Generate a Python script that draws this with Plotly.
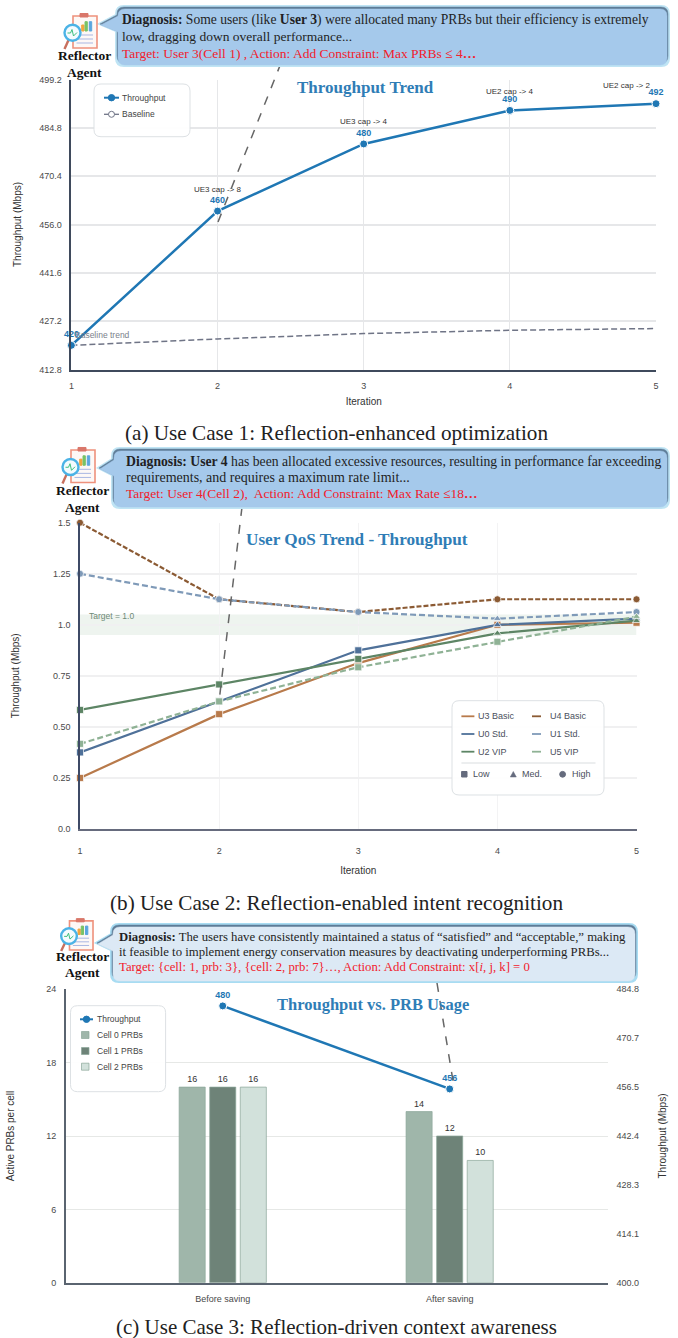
import plotly.graph_objects as go

W, H = 678, 1338

# ---------- data ----------
iterations = [1, 2, 3, 4, 5]
tp_values = [420, 460, 480, 490, 492]
baseline_values = [420, 421.9, 423.5, 424.5, 425.0]
a_yticks = [412.8, 427.2, 441.6, 456.0, 470.4, 484.8, 499.2]
a_notes = ["UE3 cap -> 8", "UE3 cap -> 4", "UE2 cap -> 4", "UE2 cap -> 2"]

u3_basic = [0.25, 0.5625, 0.8125, 1.0, 1.01]
u4_basic = [1.5, 1.125, 1.0625, 1.125, 1.125]
u0_std = [0.375, 0.625, 0.875, 1.0, 1.03]
u1_std = [1.25, 1.125, 1.0625, 1.03, 1.0625]
u2_vip = [0.583, 0.708, 0.833, 0.958, 1.02]
u5_vip = [0.417, 0.625, 0.792, 0.917, 1.04]
b_yticks = [0, 0.25, 0.5, 0.75, 1.0, 1.25, 1.5]
b_yticktext = ["0.0", "0.25", "0.50", "0.75", "1.0", "1.25", "1.5"]

stages = ["Before saving", "After saving"]
cell0 = [16, 14]
cell1 = [16, 12]
cell2 = [16, 10]
tp_saving = [480, 456]
c_yticks = [0, 6, 12, 18, 24]
c_y2ticks = [400.0, 414.1, 428.3, 442.4, 456.5, 470.7, 484.8]

# ---------- helpers ----------
SERIF = "Liberation Serif"
SANS = "Liberation Sans"
shapes, notes = [], []


def px(x):
    return x / W


def py(y):
    return 1 - y / H


def text(x, y, s, size=8.5, color="#444", font=SANS, anchor="left"):
    # annotations pad their box by about 2.5px; take that off left-aligned text
    x = x - 2.5 if anchor == "left" else x
    notes.append(dict(x=px(x), y=py(y), xref="paper", yref="paper", text=s, showarrow=False,
                      xanchor=anchor, yanchor="middle", align=anchor,
                      font=dict(family=font, size=size, color=color)))


def line(x0, y0, x1, y1, color, width=1.5, dash="solid"):
    shapes.append(dict(type="line", xref="paper", yref="paper", x0=px(x0), y0=py(y0), x1=px(x1), y1=py(y1),
                       line=dict(color=color, width=width, dash=dash), layer="above"))


def rect(x0, y0, x1, y1, fill, border=None, width=1):
    shapes.append(dict(type="rect", xref="paper", yref="paper", x0=px(x0), y0=py(y0), x1=px(x1), y1=py(y1),
                       fillcolor=fill, line=dict(color=border or fill, width=width), layer="above"))


def circle(cx, cy, r, fill, border=None, width=1):
    shapes.append(dict(type="circle", xref="paper", yref="paper", x0=px(cx - r), y0=py(cy - r),
                       x1=px(cx + r), y1=py(cy + r), fillcolor=fill,
                       line=dict(color=border or fill, width=width), layer="above"))


def poly(points, fill):
    d = "M " + " L ".join(f"{px(x):.5f},{py(y):.5f}" for x, y in points) + " Z"
    shapes.append(dict(type="path", xref="paper", yref="paper", path=d, fillcolor=fill,
                       line=dict(color=fill, width=0.5), layer="above"))


def round_path(x0, y0, x1, y1, r, tail=None):
    P = lambda x, y: f"{px(x):.5f},{py(y):.5f}"
    d = f"M {P(x0 + r, y0)} L {P(x1 - r, y0)} Q {P(x1, y0)} {P(x1, y0 + r)} L {P(x1, y1 - r)} "
    d += f"Q {P(x1, y1)} {P(x1 - r, y1)} L {P(x0 + r, y1)} Q {P(x0, y1)} {P(x0, y1 - r)} "
    if tail:
        d += f"L {P(x0, tail[1] + 7)} L {P(tail[0], tail[1])} L {P(x0, tail[1] - 9)} "
    d += f"L {P(x0, y0 + r)} Q {P(x0, y0)} {P(x0 + r, y0)} Z"
    return d


def rounded(x0, y0, x1, y1, r, fill, border, width=1, tail=None):
    shapes.append(dict(type="path", xref="paper", yref="paper", path=round_path(x0, y0, x1, y1, r, tail),
                       fillcolor=fill, line=dict(color=border, width=width), layer="above"))


def bubble(x0, y0, x1, y1, tail, fill, glow="#bfe4f4"):
    rounded(x0 - 1, y0 - 1, x1 + 1, y1 + 1, 8, glow, glow, 2, (tail[0] - 1, tail[1]))
    rounded(x0, y0, x1, y1 - 2, 7, "#5f7d98", "#5f7d98", 0.5, tail)
    rounded(x0 + 1, y0 + 2, x1 - 1, y1, 7, fill, fill, 0.5, (tail[0] + 1, tail[1] + 1))


def icon(x0, y0, w, h):
    s = w / 25.0
    t = h / 33.0
    X = lambda v: x0 + v * s
    Y = lambda v: y0 + v * t
    rect(X(0.5), Y(1), X(24.5), Y(33), "#fdf8f6", "#ee917c", 1.6)
    rect(X(7.5), Y(-1.5), X(15.5), Y(2), "#d9776a")
    rect(X(9.2), Y(10), X(11.5), Y(16), "#f1a53f")
    rect(X(12.5), Y(6.7), X(14.8), Y(16), "#79c267")
    rect(X(16.8), Y(6.7), X(19.2), Y(16), "#5aa6de")
    for v in (20, 24, 28):
        line(X(4), Y(v), X(20.5), Y(v), "#a9b7e2", 1)
    line(X(-8), Y(34), X(-3.5), Y(24), "#c8705e", 2.4)
    circle(X(0), Y(17.7), 8 * s, "#f4fbfe", "#4bb3e6", 2.4)
    line(X(-5), Y(18), X(-2), Y(18), "#3fc07f", 1)
    line(X(-2), Y(18), X(-0.5), Y(14.5), "#3fc07f", 1)
    line(X(-0.5), Y(14.5), X(1), Y(21), "#3fc07f", 1)
    line(X(1), Y(21), X(4.5), Y(17.5), "#3fc07f", 1)


def agent_label(cx, y1, y2):
    text(cx, y1, "<b>Reflector</b>", 13.5, "#111", SERIF, "center")
    text(cx, y2, "<b>Agent</b>", 13.5, "#111", SERIF, "center")


def legend_box(x0, y0, x1, y1):
    rounded(x0, y0, x1, y1, 7, "rgba(255,255,255,0.93)", "#dde1e4", 1)


RED = "#f2202c"
INK = "#1f1f24"
TITLE = "#2f7db6"
BLUE = "#1f77b4"

# ---------- panel (a) furniture ----------
line(281, 63, 218, 222, "#666", 1.5, "dash")
bubble(117, 7, 668, 65, (100, 24), "#a5c9eb")
icon(72.5, 15, 25, 33)
agent_label(84, 55.5, 73)
text(122.5, 20, "<b>Diagnosis:</b> Some users (like <b>User 3</b>) were allocated many PRBs but their efficiency is extremely", 13.6, INK, SERIF)
text(122.5, 36.7, "low, dragging down overall performance...", 13.5, INK, SERIF)
text(122.5, 53.3, "Target: User 3(Cell 1) , Action: Add Constraint: Max PRBs ≤ 4<b>…</b>", 13.5, RED, SERIF)
text(365, 87.5, "<b>Throughput Trend</b>", 17, TITLE, SERIF, "center")
legend_box(94, 84, 190, 136.7)
line(104, 97.7, 119, 97.7, BLUE, 2)
circle(111.5, 97.7, 3.2, BLUE)
text(122.8, 97.7, "Throughput", 8.5, "#444")
line(104, 114.3, 119, 114.3, "#6f7486", 1.3)
circle(111.5, 114.3, 3, "#ffffff", "#6f7486", 1)
text(122.8, 114.3, "Baseline", 8.5, "#444")
text(336, 433, "(a) Use Case 1: Reflection-enhanced optimization", 21.2, "#222", SERIF, "center")
text(75, 335, "Baseline trend", 8.5, "#7b7f8c")

# ---------- panel (b) furniture ----------
line(242, 507, 219, 702, "#666", 1.5, "dash")
bubble(113, 449, 668, 507, (99, 468), "#a5c9eb")
icon(70.5, 449, 25, 33.5)
agent_label(82.6, 490.7, 507)
text(126.7, 461, "<b>Diagnosis:</b> <b>User 4</b> has been allocated excessive resources, resulting in performance far exceeding", 13.7, INK, SERIF)
text(126.7, 477, "requirements, and requires a maximum rate limit...", 14, INK, SERIF)
text(126.7, 493, "Target: User 4(Cell 2),  Action: Add Constraint: Max Rate ≤18<b>…</b>", 13.5, RED, SERIF)
text(357, 539, "<b>User QoS Trend - Throughput</b>", 17.2, TITLE, SERIF, "center")
text(90, 615.7, "Target = 1.0", 8.5, "#6f8a78")
legend_box(452, 700.7, 604, 795)
rows = [(716.3, "U3 Basic", "#b87a4b", "U4 Basic", "#8b5a33"),
        (734, "U0 Std.", "#4f7199", "U1 Std.", "#7f9ab8"),
        (751.7, "U2 VIP", "#5d8565", "U5 VIP", "#8fb295")]
for y, a, ca, b, cb in rows:
    line(461.4, y, 474.4, y, ca, 1.8)
    text(478.7, y, a, 9, "#4a4f5c")
    line(532, y, 545, y, cb, 1.8, "dash")
    text(550, y, b, 9, "#4a4f5c")
line(461.4, 763, 595.5, 763, "#e6e8ea", 1.5)
rect(461.6, 771.5, 467, 777, "#656b7d")
text(473.5, 774.3, "Low", 9, "#4a4f5c")
poly([(510.3, 777), (516.3, 777), (513.3, 771.5)], "#656b7d")
text(522.4, 774.3, "Med.", 9, "#4a4f5c")
circle(562.6, 774.3, 2.9, "#656b7d")
text(572, 774.3, "High", 9, "#4a4f5c")
text(336, 903, "(b) Use Case 2: Reflection-enabled intent recognition", 21.2, "#222", SERIF, "center")

# ---------- panel (c) furniture ----------
line(437, 983, 454, 1087, "#666", 1.5, "dash")
bubble(112, 925, 636, 981, (97, 943), "#dce9f5", "#a8dcf2")
icon(69, 920, 24.5, 30)
agent_label(82, 957, 972)
text(119, 937, "<b>Diagnosis:</b> The users have consistently maintained a status of “satisfied” and “acceptable,” making", 12.75, INK, SERIF)
text(119, 952, "it feasible to implement energy conservation measures by deactivating underperforming PRBs...", 12.75, INK, SERIF)
text(119, 967, "Target: {cell: 1, prb: 3}, {cell: 2, prb: 7}…, Action: Add Constraint: x[<i>i</i>, j, k] = 0", 12.75, RED, SERIF)
text(373, 1004, "<b>Throughput vs. PRB Usage</b>", 16.5, TITLE, SERIF, "center")
legend_box(70.5, 1005.7, 165.6, 1091.7)
line(80, 1019.3, 93, 1019.3, BLUE, 2)
circle(86.5, 1019.3, 3.2, BLUE)
text(97.3, 1019.3, "Throughput", 8.5, "#444")
for y, name, col in [(1035, "Cell 0 PRBs", "#9fb6aa"), (1051, "Cell 1 PRBs", "#6e8378"), (1066.7, "Cell 2 PRBs", "#d2e1db")]:
    rect(81.5, y - 3.5, 89, y + 3.5, col, "#8ba69a", 0.7)
    text(97.3, y, name, 8.5, "#444")
text(336.5, 1327, "(c) Use Case 3: Reflection-driven context awareness", 21, "#222", SERIF, "center")

# ---------- traces ----------
fig = go.Figure()
fig.add_trace(go.Scatter(x=iterations, y=baseline_values, name="Baseline", mode="lines",
                         line=dict(color="#6f7486", width=1.5, dash="6px,3px"), xaxis="x", yaxis="y", cliponaxis=False))
fig.add_trace(go.Scatter(x=iterations, y=tp_values, name="Throughput", mode="lines+markers+text",
                         text=[str(v) for v in tp_values], textposition="top center",
                         textfont=dict(family=SANS, size=9, color=BLUE, weight="bold"),
                         line=dict(color=BLUE, width=2.5), marker=dict(size=8, color=BLUE, line=dict(color="white", width=1)),
                         xaxis="x", yaxis="y", cliponaxis=False))

SQ, TR, CI = "square", "triangle-up", "circle"
series_b = [
    ("U4 Basic", u4_basic, "#8b5a33", "5px,2px", [CI, CI, CI, CI, CI]),
    ("U1 Std.", u1_std, "#7f9ab8", "6px,3px", [CI, CI, CI, TR, CI]),
    ("U3 Basic", u3_basic, "#b87a4b", "solid", [SQ, SQ, SQ, SQ, SQ]),
    ("U0 Std.", u0_std, "#4f7199", "solid", [SQ, SQ, SQ, TR, TR]),
    ("U2 VIP", u2_vip, "#5d8565", "solid", [SQ, SQ, SQ, TR, TR]),
    ("U5 VIP", u5_vip, "#8fb295", "6px,3px", [SQ, SQ, SQ, SQ, TR]),
]
for name, vals, color, dash, syms in series_b:
    fig.add_trace(go.Scatter(x=iterations, y=vals, name=name, mode="lines+markers",
                             line=dict(color=color, width=2.2, dash=dash),
                             marker=dict(size=7, color=color, symbol=syms, line=dict(color="white", width=0.7)),
                             xaxis="x2", yaxis="y2", cliponaxis=False))

for name, vals, col in [("Cell 0 PRBs", cell0, "#9fb6aa"), ("Cell 1 PRBs", cell1, "#6e8378"), ("Cell 2 PRBs", cell2, "#d2e1db")]:
    fig.add_trace(go.Bar(x=stages, y=vals, name=name, text=vals, textposition="outside", cliponaxis=False,
                         textfont=dict(family=SANS, size=9, color="#333"), marker=dict(color=col, line=dict(color="#8ba69a", width=0.7)),
                         xaxis="x3", yaxis="y3"))
fig.add_trace(go.Scatter(x=stages, y=tp_saving, name="Throughput", mode="lines+markers+text",
                         text=[str(v) for v in tp_saving], textposition="top center",
                         textfont=dict(family=SANS, size=9, color=BLUE, weight="bold"),
                         line=dict(color=BLUE, width=2.5), marker=dict(size=8, color=BLUE, line=dict(color="white", width=1)),
                         xaxis="x3", yaxis="y4", cliponaxis=False))

# cap annotations on the first chart, tied to the data points
note_shift = [(0, 22), (0, 22), (0, 19), (-30, 18)]
for i, t, (dx, dy) in zip(iterations[1:], a_notes, note_shift):
    notes.append(dict(x=i, y=tp_values[i - 1], xref="x", yref="y", text=t, showarrow=False, xshift=dx, yshift=dy,
                      font=dict(family=SANS, size=8, color="#333")))

# target band and reference line on the second chart
shapes.insert(0, dict(type="rect", xref="x2", yref="y2", x0=1, x1=5, y0=0.95, y1=1.05, fillcolor="#eef4ef",
                      line=dict(width=0), layer="below"))
shapes.insert(1, dict(type="line", xref="x2", yref="y2", x0=1, x1=5, y0=1, y1=1,
                      line=dict(color="#6f8f78", width=1.5, dash="dash"), layer="below"))

# ---------- axes ----------
tick = dict(family=SANS, size=9, color="#4a4a4a")
title_font = dict(family=SANS, size=10, color="#333")


def xdom(a, b):
    return [a / W, b / W]


def ydom(top, bottom):
    return [1 - bottom / H, 1 - top / H]


common = dict(ticks="outside", tickcolor="rgba(0,0,0,0)", tickfont=tick, showline=True, zeroline=False, automargin=False)

fig.update_layout(
    width=W, height=H, autosize=False, margin=dict(l=0, r=0, t=0, b=0),
    paper_bgcolor="white", plot_bgcolor="white", showlegend=False,
    font=dict(family=SANS), barmode="group", bargap=0.596, bargroupgap=0.147,
    shapes=shapes, annotations=notes,
    xaxis=dict(common, domain=xdom(71.4, 656), anchor="y", range=[1, 5], tickvals=iterations, ticklen=7,
               gridcolor="#e6e7e9", gridwidth=1.2, linecolor="#3f4a5c", linewidth=1.5,
               title=dict(text="Iteration", font=title_font, standoff=8)),
    yaxis=dict(common, domain=ydom(79.5, 369.5), anchor="x", range=[412.8, 499.2], tickvals=a_yticks,
               tickformat=".1f", ticklen=6, gridcolor="#e6e7e9", gridwidth=1.5, linecolor="#3f4a5c", linewidth=1.5,
               title=dict(text="Throughput (Mbps)", font=title_font, standoff=16)),
    xaxis2=dict(common, domain=xdom(80, 636.5), anchor="y2", range=[1, 5], tickvals=iterations, ticklen=12,
                gridcolor="#f3f3f4", gridwidth=1, linecolor="#666b7d", linewidth=2,
                title=dict(text="Iteration", font=title_font, standoff=12)),
    yaxis2=dict(common, domain=ydom(522.7, 829), anchor="x2", range=[0, 1.5], tickvals=b_yticks, ticktext=b_yticktext,
                ticklen=6, gridcolor="#f0f0f1", gridwidth=2, linecolor="#3e4a66", linewidth=1.5,
                title=dict(text="Throughput (Mbps)", font=title_font, standoff=31)),
    xaxis3=dict(common, domain=xdom(65.7, 607.6), anchor="y3", type="category", categoryorder="array",
                categoryarray=stages, range=[-0.692, 1.696], ticklen=7, showgrid=False,
                linecolor="#5a6470", linewidth=1.5),
    yaxis3=dict(common, domain=ydom(989.3, 1282.7), anchor="x3", range=[0, 24], tickvals=c_yticks, ticklen=6,
                gridcolor="#e6e8e6", gridwidth=1.2, linecolor="#5a6470", linewidth=1.5,
                title=dict(text="Active PRBs per cell", font=title_font, standoff=30)),
    yaxis4=dict(common, domain=ydom(989.3, 1282.7), anchor="x3", overlaying="y3", side="right", range=[400, 484.8],
                tickvals=c_y2ticks, tickformat=".1f", ticklen=6, showgrid=False, showline=False,
                title=dict(text="Throughput (Mbps)", font=title_font, standoff=21)),
)

fig.write_html("out.html", config=dict(displayModeBar=False),
               post_script="document.body.style.margin='0';document.documentElement.style.overflow='hidden';")
